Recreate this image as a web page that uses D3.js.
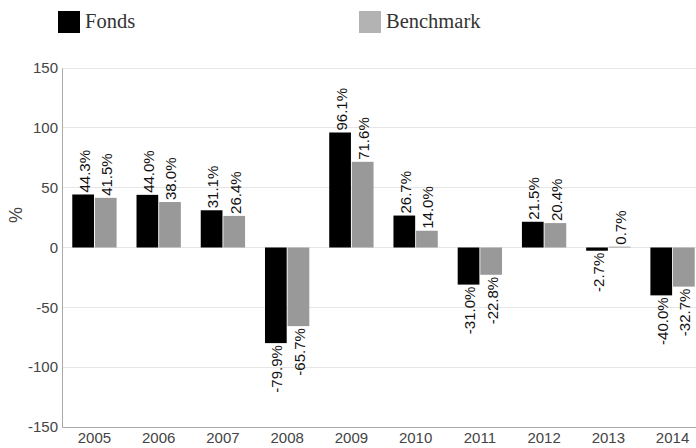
<!DOCTYPE html>
<html><head><meta charset="utf-8">
<script src="https://cdn.jsdelivr.net/npm/d3@7"></script>
<style>body{margin:0;background:#fff}svg{display:block}</style>
</head><body>
<script>
const years = ["2005","2006","2007","2008","2009","2010","2011","2012","2013","2014"];
const fonds = [44.3, 44.0, 31.1, -79.9, 96.1, 26.7, -31.0, 21.5, -2.7, -40.0];
const benchmark = [41.5, 38.0, 26.4, -65.7, 71.6, 14.0, -22.8, 20.4, 0.7, -32.7];
const seriesNames = ["Fonds", "Benchmark"];
const seriesColors = ["#000000", "#999999"];
const legendColors = ["#000000", "#b3b3b3"];
const yTicks = [-150, -100, -50, 0, 50, 100, 150];

const W = 696, H = 448;
const svg = d3.select("body").append("svg").attr("width", W).attr("height", H);
const sans = "Arial, 'Liberation Sans', sans-serif";

const y = d3.scaleLinear().domain([-150, 150]).range([427, 68]);
const x0 = d3.scaleBand().domain(years).range([62, 705]).paddingInner(0.31).paddingOuter(0.16);
const x1 = d3.scaleBand().domain(seriesNames).range([0, x0.bandwidth()]).paddingInner(0.04);

// gridlines
svg.append("g").selectAll("line").data(yTicks.filter(t => t !== -150)).join("line")
  .attr("x1", 62).attr("x2", W).attr("y1", d => y(d)).attr("y2", d => y(d))
  .attr("stroke", "#e6e6e6").attr("stroke-width", 1).attr("shape-rendering", "crispEdges");

// y axis
const yAxis = svg.append("g").attr("transform", "translate(62,0)")
  .call(d3.axisLeft(y).tickValues(yTicks).tickFormat(d => String(d)).tickSize(0).tickPadding(4));
yAxis.select(".domain").attr("stroke", "#aaaaaa");
yAxis.selectAll("text").attr("font-family", sans).attr("font-size", 15).attr("fill", "#444");

// x axis
const xAxis = svg.append("g").attr("transform", "translate(0,427)")
  .call(d3.axisBottom(x0).tickSize(0).tickPadding(5));
xAxis.select(".domain").attr("stroke", "#aaaaaa");
xAxis.selectAll("text").attr("font-family", sans).attr("font-size", 15).attr("fill", "#444");

// y label
svg.append("text").attr("transform", "translate(22,215) rotate(-90)")
  .attr("text-anchor", "middle").attr("font-family", sans)
  .attr("font-size", 18).attr("fill", "#444").text("%");

const data = years.map((yr, i) => ({year: yr, vals: [
  {s: seriesNames[0], v: fonds[i], c: seriesColors[0]},
  {s: seriesNames[1], v: benchmark[i], c: seriesColors[1]}]}));

const groups = svg.append("g").selectAll("g").data(data).join("g")
  .attr("transform", d => `translate(${x0(d.year)},0)`);

groups.selectAll("rect").data(d => d.vals).join("rect")
  .attr("x", d => x1(d.s)).attr("width", x1.bandwidth())
  .attr("y", d => y(Math.max(0, d.v))).attr("height", d => Math.abs(y(d.v) - y(0)))
  .attr("fill", d => d.c);

groups.selectAll("text").data(d => d.vals).join("text")
  .attr("transform", d => {
    const cx = x1(d.s) + x1.bandwidth() / 2 + 1;
    const yy = d.v >= 0 ? y(d.v) - 2 : y(d.v) + 2;
    return `translate(${cx},${yy}) rotate(-90)`;
  })
  .attr("text-anchor", d => d.v >= 0 ? "start" : "end")
  .attr("dominant-baseline", "central")
  .attr("font-family", sans).attr("font-size", 15).attr("fill", "#111")
  .text(d => d.v.toFixed(1) + "%");

// legend
const legX = [58, 359];
const leg = svg.append("g").selectAll("g").data(seriesNames).join("g")
  .attr("transform", (d, i) => `translate(${legX[i]},11)`);
leg.append("rect").attr("width", 22).attr("height", 22).attr("fill", (d, i) => legendColors[i]);
leg.append("text").attr("x", 27).attr("y", 17).attr("font-family", "'Liberation Serif', 'DejaVu Serif', serif")
  .attr("font-size", 20.5).attr("fill", "#333").text(d => d);
</script>
</body></html>
